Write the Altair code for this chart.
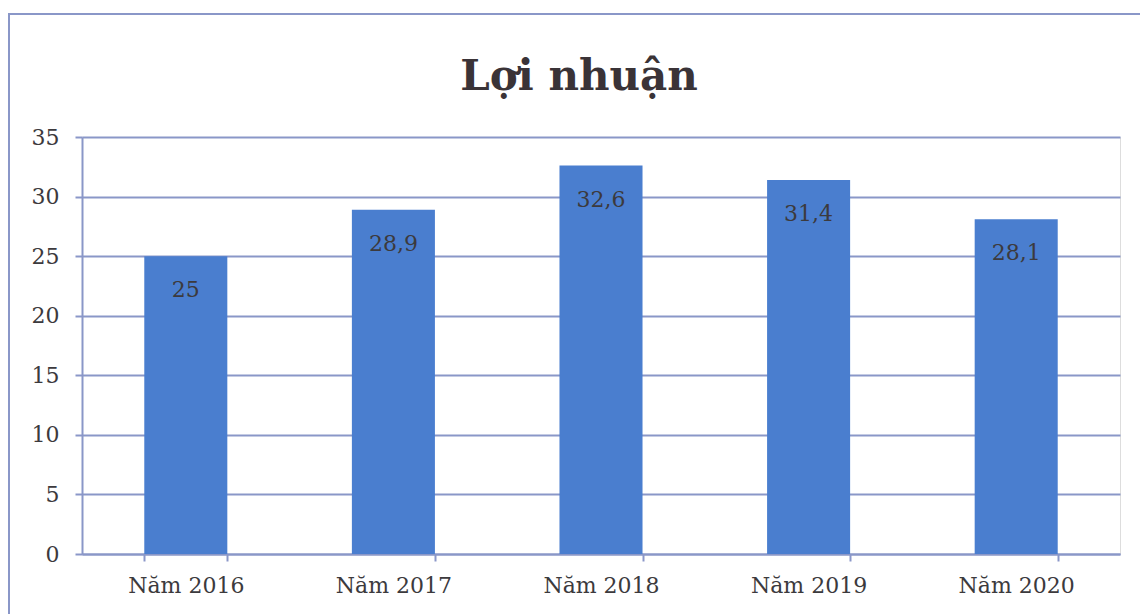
import altair as alt
import pandas as pd

years = ["Năm 2016", "Năm 2017", "Năm 2018", "Năm 2019", "Năm 2020"]
profits = [25, 28.9, 32.6, 31.4, 28.1]
value_labels = ["25", "28,9", "32,6", "31,4", "28,1"]
chart_title = ["Lợi nhuận"]

df = pd.DataFrame({"year": years, "profit": profits, "label": value_labels})
df_title = pd.DataFrame({"t": chart_title})

FONT = "DejaVu Serif"
LINE = "#8a97c8"
BAR = "#4a7ecf"
TXT = "#3c3a3d"

W, H = 1038, 417

x_enc = alt.X(
    "year:N", sort=years, title=None,
    scale=alt.Scale(paddingInner=0.6, paddingOuter=0.3),
    axis=alt.Axis(labelAngle=0, tickBand="extent", tickSize=7, tickColor=LINE,
                  tickWidth=2, domainColor=LINE, domainWidth=2, labelPadding=14,
                  labelFont=FONT, labelFontSize=22, labelColor=TXT),
)
y_enc = alt.Y(
    "profit:Q", title=None,
    scale=alt.Scale(domain=[0, 35], nice=False),
    axis=alt.Axis(values=[0, 5, 10, 15, 20, 25, 30, 35], grid=True, gridColor=LINE,
                  gridWidth=2, tickSize=7, tickColor=LINE, tickWidth=2,
                  domainColor=LINE, domainWidth=2, labelPadding=16,
                  labelFont=FONT, labelFontSize=22, labelColor=TXT),
)

border = alt.Chart(df).mark_rect(fillOpacity=0, stroke=LINE, strokeWidth=2).encode(
    x=alt.value(-73), x2=alt.value(1200), y=alt.value(-123), y2=alt.value(700)
)

title = alt.Chart(df_title).mark_text(
    font=FONT, fontSize=42, fontWeight="bold", color="#3a3337",
    align="center", baseline="alphabetic"
).encode(x=alt.value(497), y=alt.value(-47), text="t:N")

bars = alt.Chart(df).mark_bar(color=BAR).encode(x=x_enc, y=y_enc)

texts = alt.Chart(df).mark_text(
    font=FONT, fontSize=22, color=TXT, baseline="middle", dy=34
).encode(x=alt.X("year:N", sort=years), y=alt.Y("profit:Q"), text="label:N")

chart = alt.layer(border, title, bars, texts).properties(
    width=W, height=H,
    autosize=alt.AutoSizeParams(type="none"),
    padding={"left": 82, "top": 137, "right": 20, "bottom": 60},
).configure_view(stroke=None).configure(background="white")

chart.save("out.html", embed_options={"renderer": "svg", "actions": False})
